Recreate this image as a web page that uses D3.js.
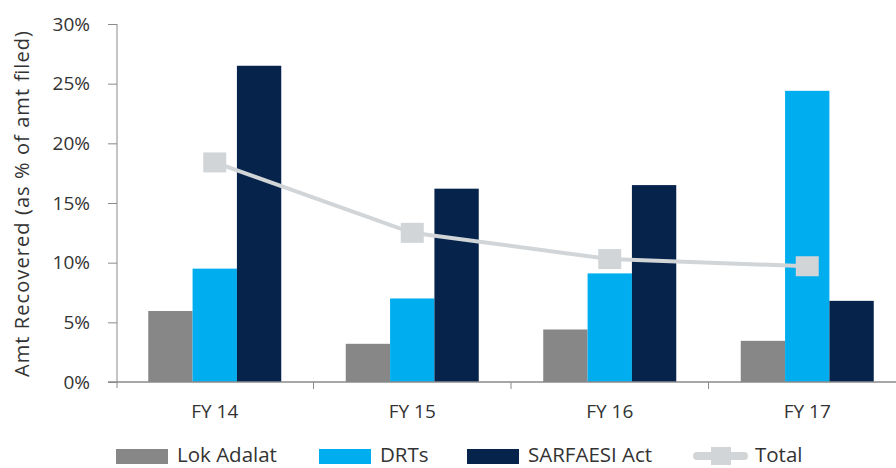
<!DOCTYPE html>
<html><head><meta charset="utf-8">
<script src="https://cdn.jsdelivr.net/npm/d3@7"></script>
<style>
html,body{margin:0;padding:0;background:#fff;}
text{font-family:"Open Sans",sans-serif;fill:#333;}
</style></head>
<body>
<svg id="chart" width="896" height="468"></svg>
<script>
const categories = ["FY 14", "FY 15", "FY 16", "FY 17"];
const seriesNames = ["Lok Adalat", "DRTs", "SARFAESI Act"];
const lokAdalat = [5.95, 3.2, 4.4, 3.45];
const drts = [9.5, 7.0, 9.1, 24.4];
const sarfaesi = [26.5, 16.2, 16.5, 6.8];
const total = [18.4, 12.5, 10.3, 9.7];
const yTicks = [0, 5, 10, 15, 20, 25, 30];
const yTitle = "Amt Recovered (as % of amt filed)";
const lineName = "Total";

const colors = {"Lok Adalat":"#878787","DRTs":"#00AEEF","SARFAESI Act":"#05234B"};
const lineColor = "#D1D5D8";
const axisColor = "#8a8a8a";

const svg = d3.select("#chart");
const x = d3.scaleBand().domain(categories).range([116, 906]).padding(0);
const y = d3.scaleLinear().domain([0, 30]).range([382, 24]);
const groupW = 133;
const x1 = d3.scaleBand().domain(seriesNames)
  .range([(x.bandwidth()-groupW)/2, (x.bandwidth()+groupW)/2]).padding(0);

const seriesVals = {"Lok Adalat":lokAdalat, "DRTs":drts, "SARFAESI Act":sarfaesi};
const rows = categories.map((c,i)=>({cat:c, vals: seriesNames.map(s=>({s, v:seriesVals[s][i]}))}));

// bars
const g = svg.append("g");
g.selectAll("g.grp").data(rows).join("g").attr("class","grp")
  .attr("transform", d=>`translate(${x(d.cat)},0)`)
  .selectAll("rect").data(d=>d.vals).join("rect")
  .attr("x", d=>x1(d.s)).attr("width", x1.bandwidth())
  .attr("y", d=>y(d.v)).attr("height", d=>y(0)-y(d.v))
  .attr("fill", d=>colors[d.s]);

// y axis
const ya = svg.append("g").attr("transform","translate(117,0)")
  .call(d3.axisLeft(y).tickValues(yTicks).tickFormat(d=>d+"%").tickSize(9).tickPadding(18));
ya.select(".domain").attr("stroke", axisColor).attr("d", `M0,${y(30)}V${y(0)+6}`);
ya.selectAll(".tick line").attr("stroke", axisColor);
ya.selectAll(".tick text").style("font-size","19px").attr("fill","#333");

// x axis
const xa = svg.append("g").attr("transform",`translate(0,${y(0)})`);
xa.append("line").attr("x1",108).attr("x2",896).attr("y1",0).attr("y2",0).attr("stroke",axisColor).attr("stroke-width",1.5);
const bounds = categories.slice(1).map(c=>x(c));
xa.selectAll("line.tk").data(bounds).join("line").attr("class","tk")
  .attr("x1",d=>d).attr("x2",d=>d).attr("y1",0).attr("y2",7).attr("stroke",axisColor);
xa.selectAll("text").data(categories).join("text")
  .attr("x", d=>x(d)+x.bandwidth()/2).attr("y", 36)
  .attr("text-anchor","middle").style("font-size","19px").text(d=>d);

// total line
const line = d3.line().x((d,i)=>x(categories[i])+x.bandwidth()/2).y(d=>y(d));
svg.append("path").datum(total).attr("d", line).attr("fill","none")
  .attr("stroke", lineColor).attr("stroke-width",4);
svg.selectAll("rect.mk").data(total).join("rect").attr("class","mk")
  .attr("x",(d,i)=>x(categories[i])+x.bandwidth()/2-11.5)
  .attr("y",d=>y(d)-10).attr("width",23).attr("height",20).attr("fill",lineColor);

// y title
svg.append("text").attr("transform","translate(29,204) rotate(-90)")
  .attr("text-anchor","middle").style("font-size","20px")
  .attr("textLength",346).attr("lengthAdjust","spacing").text(yTitle);

// legend
const legY = 456;
const leg = svg.append("g");
const items = [
  {name:"Lok Adalat", x:116},
  {name:"DRTs", x:319},
  {name:"SARFAESI Act", x:467}
];
items.forEach(it=>{
  leg.append("rect").attr("x",it.x).attr("y",legY-7).attr("width",52).attr("height",15).attr("fill",colors[it.name]);
  leg.append("text").attr("x",it.x+61).attr("y",legY+6).style("font-size","20.5px").text(it.name);
});
leg.append("line").attr("x1",697).attr("x2",744).attr("y1",legY).attr("y2",legY)
  .attr("stroke",lineColor).attr("stroke-width",8).attr("stroke-linecap","round");
leg.append("rect").attr("x",711).attr("y",legY-9).attr("width",20).attr("height",18).attr("fill",lineColor);
leg.append("text").attr("x",755).attr("y",legY+6).style("font-size","20.5px").text(lineName);
</script>
</body></html>
